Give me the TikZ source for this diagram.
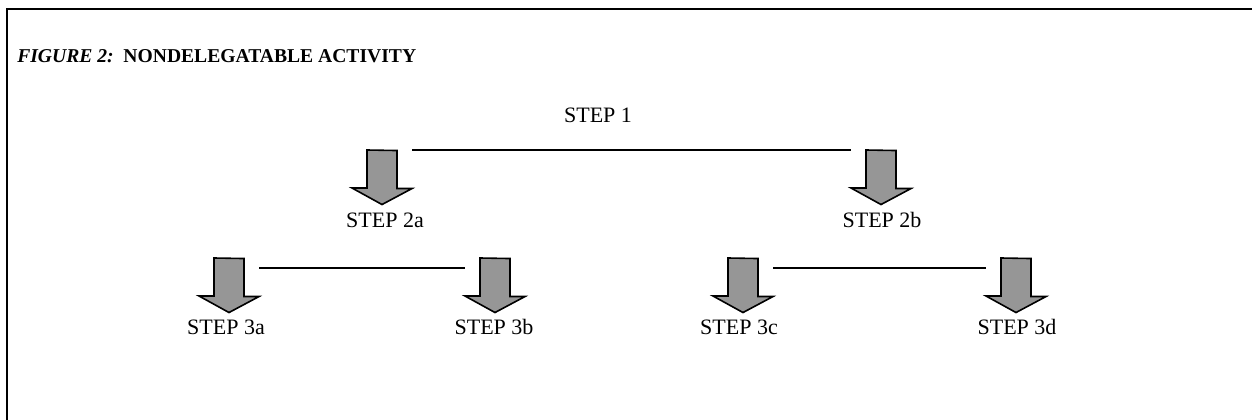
\documentclass[tikz,border=0pt]{standalone}
\usepackage{fontspec}
\setmainfont{Liberation Serif}
\begin{document}
\begin{tikzpicture}[x=0.75pt,y=-0.75pt,
  steplabel/.style={inner sep=0pt,anchor=base,font=\fontsize{16.5}{18}\selectfont},
  arrowslot/.style={minimum width=45pt,minimum height=40.5pt,inner sep=0pt,anchor=north},
  arrowbody/.style={draw=black,line width=1.2pt,fill=arrowgray,line join=miter},
  linkline/.style={line width=1.1pt},
  frameline/.style={line width=2pt}]
\definecolor{arrowgray}{RGB}{150,150,150}
\useasboundingbox (0,0) rectangle (1252,420);
% frame (left and top edges only)
\draw[frameline] (7,420) -- (7,9) -- (1252,9);
% title
\node[anchor=base west,inner sep=0pt,font=\fontsize{14.7}{17}\selectfont] (title) at (17,63)
  {\textbf{\textit{FIGURE 2:}}\ \ \textbf{NONDELEGATABLE ACTIVITY}};
% labels
\node[steplabel] (s1) at (598,123) {STEP 1};
\node[steplabel] (s2a) at (385,228) {STEP 2a};
\node[steplabel] (s2b) at (882,228) {STEP 2b};
\node[steplabel] (s3a) at (226,334) {STEP 3a};
\node[steplabel] (s3b) at (494,334) {STEP 3b};
\node[steplabel] (s3c) at (739,334) {STEP 3c};
\node[steplabel] (s3d) at (1017,334) {STEP 3d};
% arrow slots
\node[arrowslot] (a2a) at (382,150) {};
\node[arrowslot] (a2b) at (881,150) {};
\node[arrowslot] (a3a) at (229,258) {};
\node[arrowslot] (a3b) at (495,258) {};
\node[arrowslot] (a3c) at (743,258) {};
\node[arrowslot] (a3d) at (1016,258) {};
\foreach \n in {a2a,a2b,a3a,a3b,a3c,a3d}{
  \draw[arrowbody] (\n.north) ++(-15,0) -- ++(0,38) -- ++(-15,0) -- (\n.south)
     -- ++(30,-16) -- ++(-15,0) -- ++(0,-38) -- cycle;
}
% connectors
\coordinate (c3a) at ([yshift=-7.5pt]a3a.north east);
\coordinate (c3c) at ([yshift=-7.5pt]a3c.north east);
\draw[linkline] (a2a.north east) -- (a2b.north west);
\draw[linkline] (c3a) -- (c3a -| a3b.west);
\draw[linkline] (c3c) -- (c3c -| a3d.west);
\end{tikzpicture}
\end{document}
